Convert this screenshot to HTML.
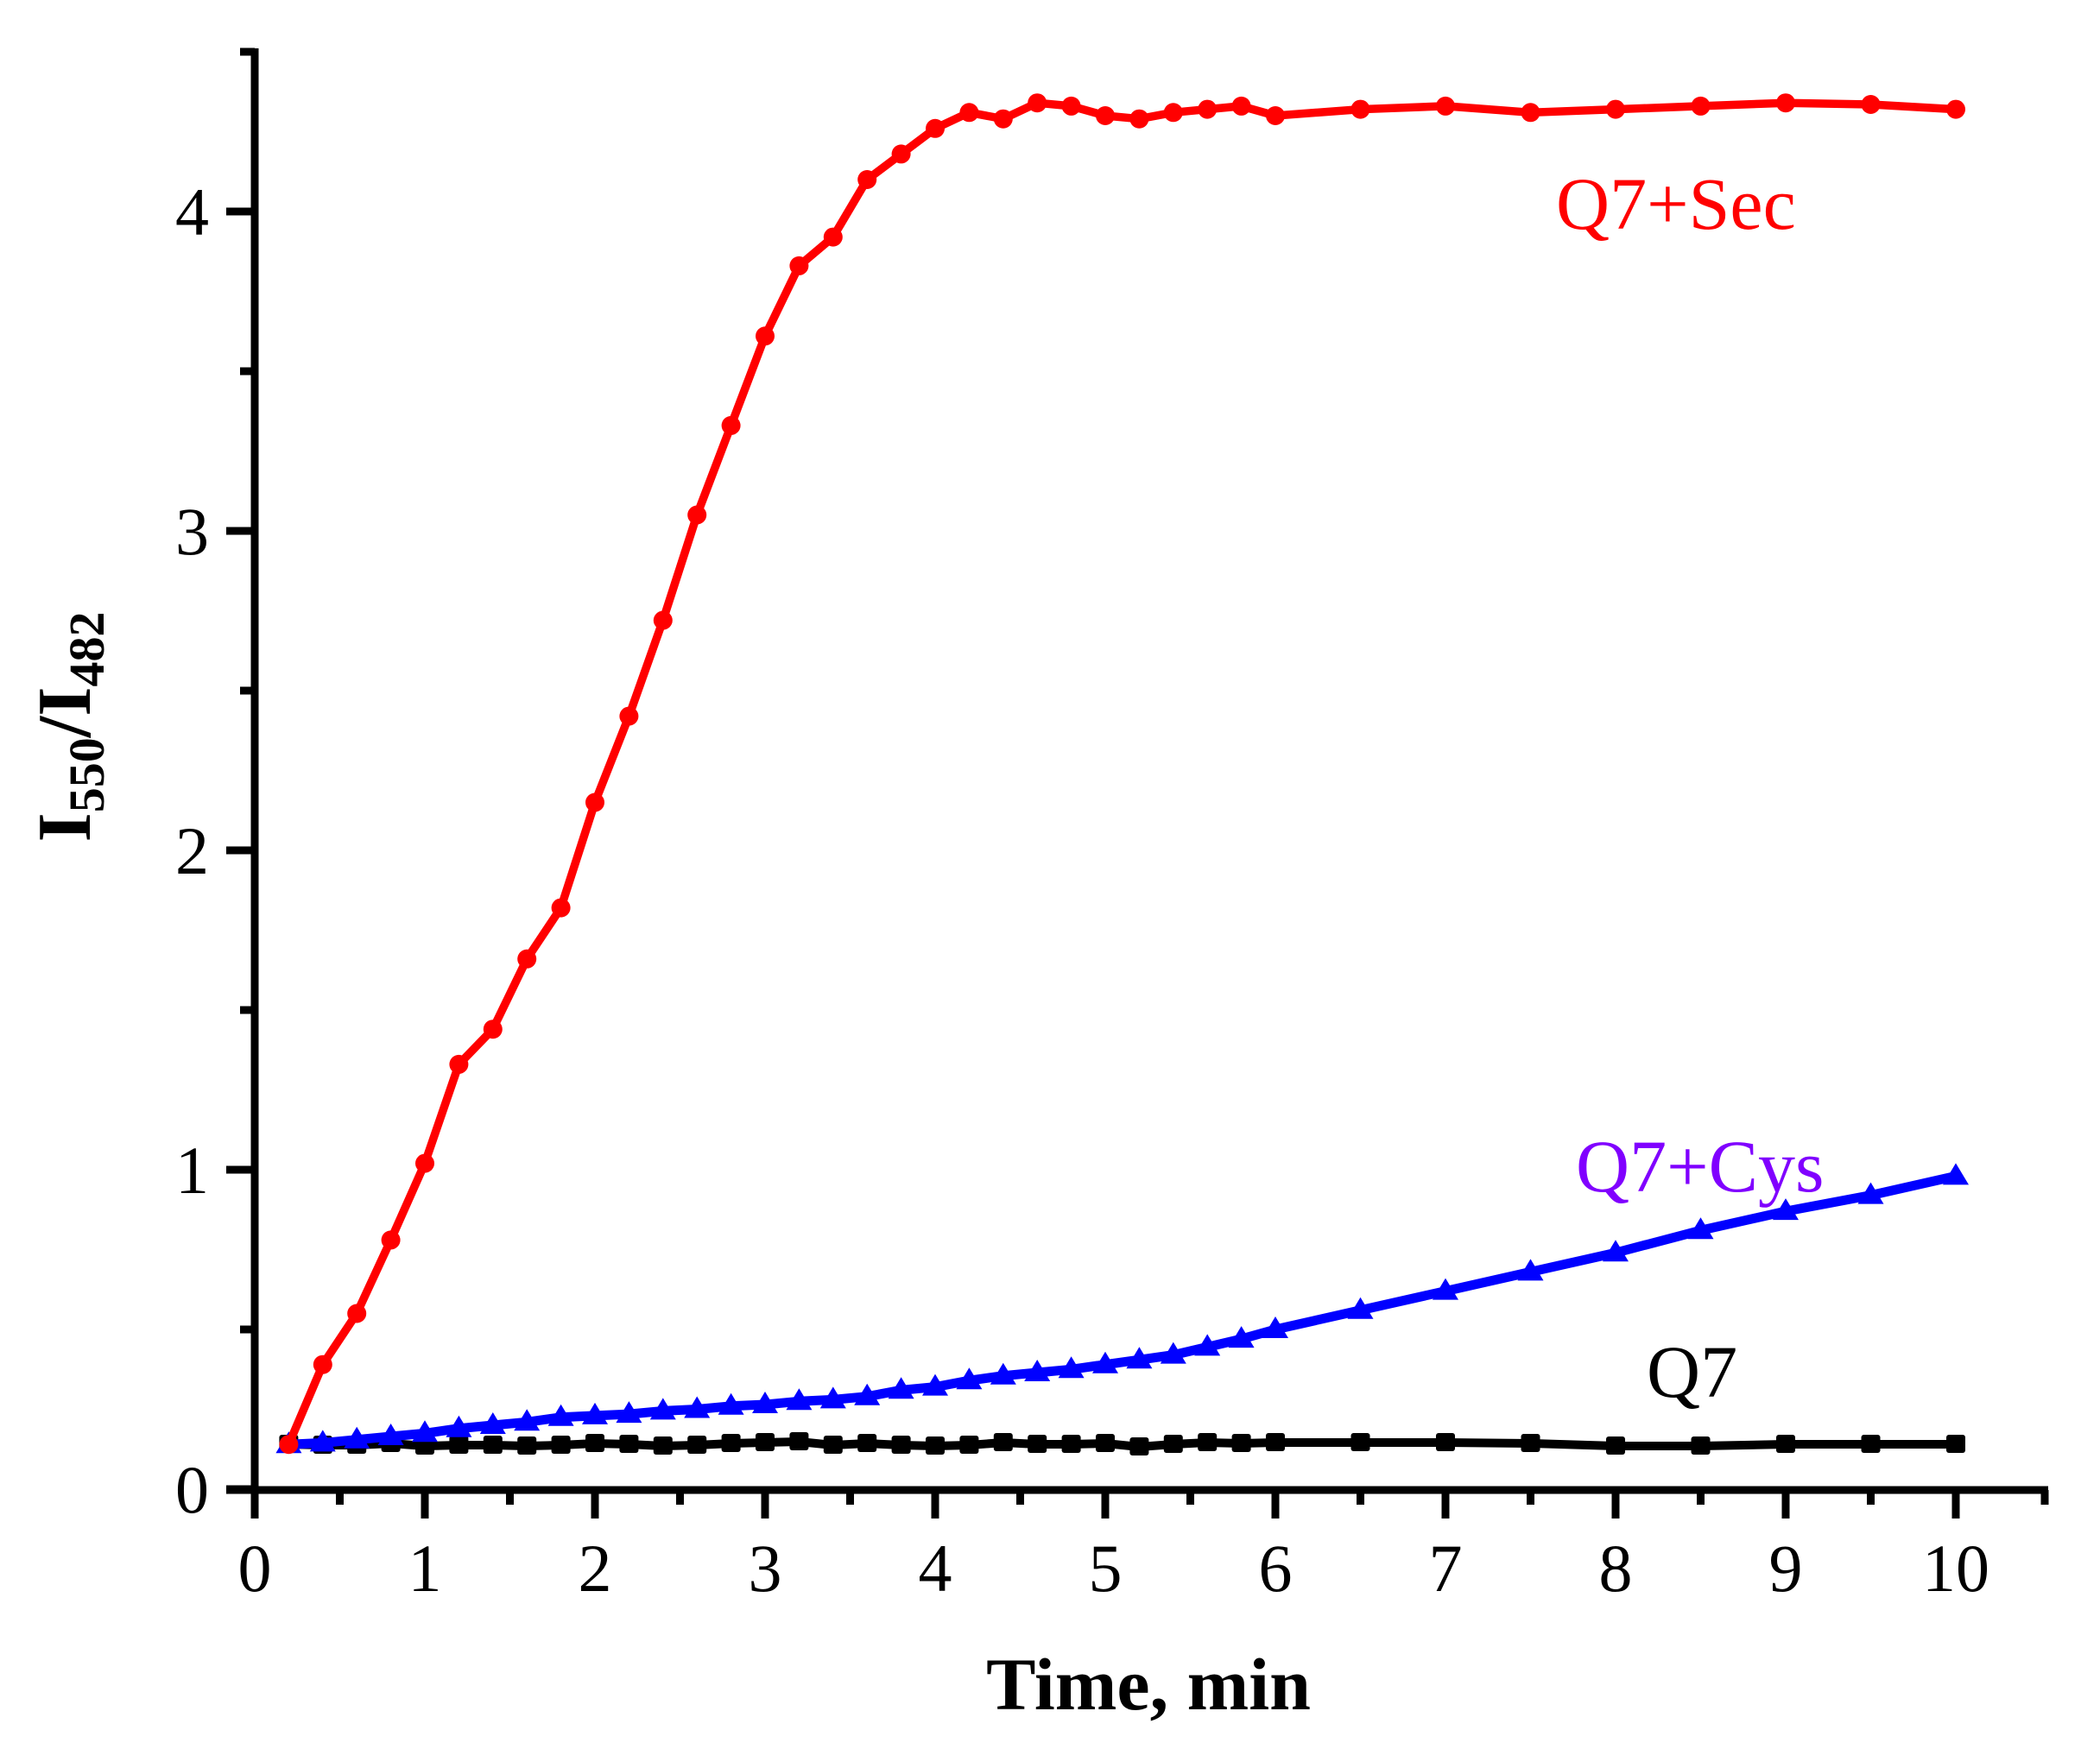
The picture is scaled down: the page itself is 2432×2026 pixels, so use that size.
<!DOCTYPE html>
<html><head><meta charset="utf-8"><style>html,body{margin:0;padding:0;background:#fff}svg{display:block}</style></head>
<body>
<svg width="2432" height="2026" viewBox="0 0 2432 2026" xmlns="http://www.w3.org/2000/svg">
<defs>
<marker id="mc" markerUnits="userSpaceOnUse" markerWidth="24" markerHeight="24" refX="12" refY="12" overflow="visible"><circle cx="12" cy="12" r="11" fill="#ff0000"/></marker>
<marker id="mt" markerUnits="userSpaceOnUse" markerWidth="24" markerHeight="24" refX="12" refY="12" overflow="visible"><polygon points="12,-3 27,22 -3,22" fill="#0000ff"/></marker>
<marker id="ms" markerUnits="userSpaceOnUse" markerWidth="24" markerHeight="24" refX="12" refY="12" overflow="visible"><rect x="1" y="1" width="22" height="21" rx="3" fill="#000"/></marker>
</defs>
<g fill="none" stroke-linejoin="round">
<polyline stroke="#000" stroke-width="10" marker-start="url(#ms)" marker-mid="url(#ms)" marker-end="url(#ms)" points="334.4,1673 373.8,1674 413.2,1674 452.6,1672 492,1675 531.4,1674 570.8,1674 610.2,1675 649.6,1674 689,1672 728.4,1673 767.8,1675 807.2,1674 846.6,1672 886,1671 925.4,1670 964.8,1674 1004.2,1672 1043.6,1674 1083,1675 1122.4,1674 1161.8,1671 1201.2,1673 1240.6,1673 1280,1672 1319.4,1676 1358.8,1673 1398.2,1671 1437.6,1672 1477,1671 1575.5,1671 1674,1671 1772.5,1672 1871,1675 1969.5,1675 2068,1673 2166.5,1673 2265,1673"/>
<polyline stroke="#0000ff" stroke-width="11" marker-start="url(#mt)" marker-mid="url(#mt)" marker-end="url(#mt)" points="334.4,1673.2 373.8,1671.4 413.2,1667.7 452.6,1664 492,1660.3 531.4,1654.7 570.8,1651 610.2,1647.3 649.6,1641.8 689,1639.9 728.4,1638.1 767.8,1634.4 807.2,1632.5 846.6,1628.8 886,1627 925.4,1623.3 964.8,1621.4 1004.2,1617.7 1043.6,1610.3 1083,1606.6 1122.4,1599.2 1161.8,1593.7 1201.2,1590 1240.6,1586.3 1280,1580.7 1319.4,1575.2 1358.8,1569.6 1398.2,1560.4 1437.6,1551.1 1477,1540 1575.5,1517.8 1674,1495.6 1772.5,1473.4 1871,1451.2 1969.5,1425.3 2068,1403.1 2166.5,1384.6 2265,1362.4"/>
<polyline stroke="#ff0000" stroke-width="9.5" marker-start="url(#mc)" marker-mid="url(#mc)" marker-end="url(#mc)" points="334.4,1673.2 373.8,1580.7 413.2,1521.5 452.6,1436.4 492,1347.6 531.4,1232.9 570.8,1192.2 610.2,1110.8 649.6,1051.6 689,929.5 728.4,829.6 767.8,718.6 807.2,596.5 846.6,492.9 886,389.3 925.4,307.9 964.8,274.6 1004.2,208 1043.6,178.4 1083,148.8 1122.4,130.3 1161.8,137.7 1201.2,119.2 1240.6,122.9 1280,134 1319.4,137.7 1358.8,130.3 1398.2,126.6 1437.6,122.9 1477,134 1575.5,126.6 1674,122.9 1772.5,130.3 1871,126.6 1969.5,122.9 2068,119.2 2166.5,121 2265,126.6"/>
</g>
<g stroke="#000" stroke-width="9" fill="none">
<line x1="262" y1="1726" x2="2372" y2="1726"/>
<line x1="295" y1="1730" x2="295" y2="56"/>
<line x1="278" y1="60" x2="295" y2="60"/>
<line x1="2368" y1="1726" x2="2368" y2="1743"/>
<path d="M295 1726V1759M492 1726V1759M689 1726V1759M886 1726V1759M1083 1726V1759M1280 1726V1759M1477 1726V1759M1674 1726V1759M1871 1726V1759M2068 1726V1759M2265 1726V1759"/>
<path d="M393.5 1726V1743M590.5 1726V1743M787.5 1726V1743M984.5 1726V1743M1181.5 1726V1743M1378.5 1726V1743M1575.5 1726V1743M1772.5 1726V1743M1969.5 1726V1743M2166.5 1726V1743"/>
<path d="M262 1725H295M262 1355H295M262 985H295M262 615H295M262 245H295"/>
<path d="M278 1540H295M278 1170H295M278 800H295M278 430H295"/>
</g>
<g font-family="'Liberation Serif', serif" font-size="78" fill="#000">
<g text-anchor="middle">
<text x="295" y="1843">0</text><text x="492" y="1843">1</text><text x="689" y="1843">2</text><text x="886" y="1843">3</text><text x="1083" y="1843">4</text><text x="1280" y="1843">5</text><text x="1477" y="1843">6</text><text x="1674" y="1843">7</text><text x="1871" y="1843">8</text><text x="2068" y="1843">9</text><text x="2265" y="1843">10</text>
</g>
<g text-anchor="end">
<text x="242" y="1752">0</text><text x="242" y="1382">1</text><text x="242" y="1012">2</text><text x="242" y="642">3</text><text x="242" y="272">4</text>
</g>
</g>
<text x="1330" y="1980" text-anchor="middle" font-family="'Liberation Serif', serif" font-weight="bold" font-size="86">Time, min</text>
<text transform="translate(104,842) rotate(-90)" text-anchor="middle" font-family="'Liberation Serif', serif" font-weight="bold" font-size="88">I<tspan font-size="58" dy="16">550</tspan><tspan dy="-16">/I</tspan><tspan font-size="58" dy="16">482</tspan></text>
<g font-family="'Liberation Serif', serif" font-size="86">
<text x="1802" y="265" fill="#ff0000">Q7+Sec</text>
<text x="1825" y="1380" fill="#8000ff">Q7+Cys</text>
<text x="1907" y="1618" fill="#000">Q7</text>
</g>
</svg>
</body></html>
